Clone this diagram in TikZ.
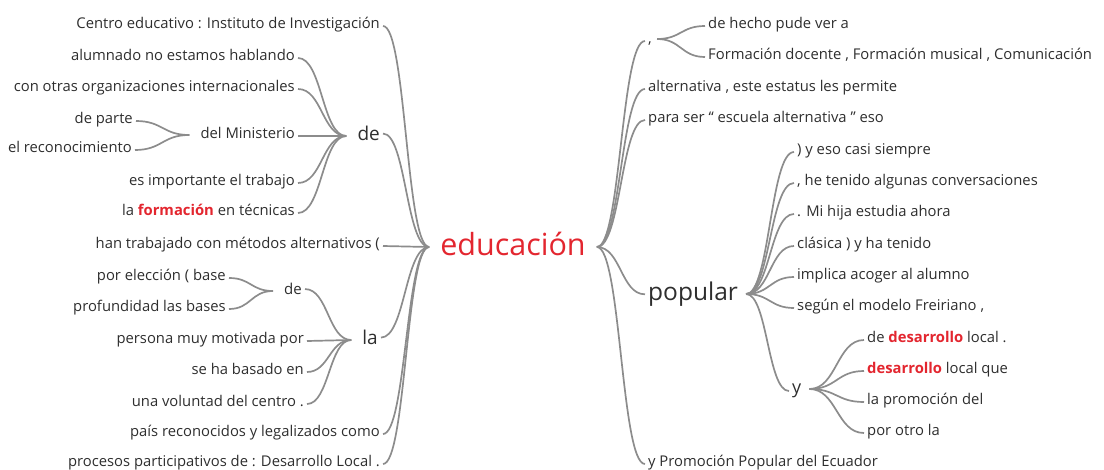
\documentclass[tikz,border=0pt]{standalone}
\usepackage{fontspec}
\setmainfont{Open Sans}
\usetikzlibrary{calc}

\definecolor{linkgray}{HTML}{8C8C8C}
\definecolor{wordred}{HTML}{E3262F}
\definecolor{wordgray}{HTML}{2E2E2E}
\newcommand{\hot}[1]{\textcolor{wordred}{\bfseries #1}}

\tikzset{
  word/.style={inner sep=3pt, text=wordgray, font=\fontsize{14.8}{17}\selectfont},
  wl/.style={word, anchor=mid east},
  wr/.style={word, anchor=mid west},
  link/.style={draw=linkgray, line width=1.7pt,
    to path={let \p1=(\tikztostart), \p2=(\tikztotarget) in
      .. controls ({(\x1+\x2)/2},\y1) and ({(\x1+\x2)/2},\y2) .. (\tikztotarget)}}
}

\begin{document}
\begin{tikzpicture}[x=1pt, y=-1pt]
    \useasboundingbox (0,0) rectangle (1104,469);

    % Root word
    \node[word, anchor=mid, text=wordred, font=\fontsize{30.5}{34}\selectfont] (educ) at (513,253) {educación};
    \coordinate (educ-w) at ([xshift=-8pt, yshift=6pt]educ.mid west);
    \coordinate (educ-e) at ([xshift=8pt, yshift=6pt]educ.mid east);

    % Left side, first level
    \node[wl] (l1) at (383,26) {Centro educativo : Instituto de Investigación};
    \node[wl, font=\fontsize{19}{22}\selectfont] (de1) at (383,138) {de};
    \node[wl] (l8) at (383,246) {han trabajado con métodos alternativos (};
    \node[wl, font=\fontsize{19}{22}\selectfont] (la1) at (381,342) {la};
    \node[wl] (l14) at (383,434) {país reconocidos y legalizados como};
    \node[wl] (l15) at (383,464) {procesos participativos de : Desarrollo Local .};

    % Left side, under "de"
    \node[wl] (l2) at (298,58) {alumnado no estamos hablando};
    \node[wl] (l3) at (298,89) {con otras organizaciones internacionales};
    \node[wl] (mini) at (298,136) {del Ministerio};
    \node[wl] (l6) at (298,183) {es importante el trabajo};
    \node[wl] (l7) at (298,213) {la \hot{formación} en técnicas};
    \node[wl] (l4) at (136,121) {de parte};
    \node[wl] (l5) at (135,150) {el reconocimiento};

    % Left side, under "la"
    \node[wl, font=\fontsize{15}{18}\selectfont] (de2) at (305,292) {de};
    \node[wl] (l9) at (229,278) {por elección ( base};
    \node[wl] (l10) at (229,309) {profundidad las bases};
    \node[wl] (l11) at (307,341) {persona muy motivada por};
    \node[wl] (l12) at (307,372) {se ha basado en};
    \node[wl] (l13) at (307,404) {una voluntad del centro .};

    \coordinate (de1-w) at ([xshift=-8pt, yshift=2pt]de1.mid west);
    \coordinate (mini-w) at ([xshift=-8pt, yshift=1pt]mini.mid west);
    \coordinate (la1-w) at ([xshift=-8pt, yshift=2pt]la1.mid west);
    \coordinate (de2-w) at ([xshift=-8pt, yshift=1pt]de2.mid west);

    % Right side, first level
    \node[wr] (coma) at (645,41) {,};
    \node[wr] (r3) at (645,89) {alternativa , este estatus les permite};
    \node[wr] (r4) at (645,120) {para ser “ escuela alternativa ” eso};
    \node[wr, font=\fontsize{24.5}{28}\selectfont] (pop) at (645,298) {popular};
    \node[wr] (r15) at (645,464) {y Promoción Popular del Ecuador};

    % Right side, under ","
    \node[wr] (r1) at (705,26) {de hecho pude ver a};
    \node[wr] (r2) at (705,57) {Formación docente , Formación musical , Comunicación};

    % Right side, under "popular"
    \node[wr] (r5) at (794,152) {) y eso casi siempre};
    \node[wr] (r6) at (794,183) {, he tenido algunas conversaciones};
    \node[wr] (r7) at (794,214) {. Mi hija estudia ahora};
    \node[wr] (r8) at (794,246) {clásica ) y ha tenido};
    \node[wr] (r9) at (794,277) {implica acoger al alumno};
    \node[wr] (r10) at (794,308) {según el modelo Freiriano ,};
    \node[wr, font=\fontsize{18}{21}\selectfont] (yy) at (789,391) {y};

    % Right side, under "y"
    \node[wr] (r11) at (864,340) {de \hot{desarrollo} local .};
    \node[wr] (r12) at (864,371) {\hot{desarrollo} local que};
    \node[wr] (r13) at (864,402) {la promoción del};
    \node[wr] (r14) at (864,433) {por otro la};

    \coordinate (coma-e) at ([xshift=2pt, yshift=2pt]coma.mid east);
    \coordinate (pop-e) at ([xshift=5pt, yshift=4pt]pop.mid east);
    \coordinate (yy-e) at ([xshift=5pt, yshift=2pt]yy.mid east);

    % Links
    \foreach \c in {l1,l8,l14,l15} \draw[link] (educ-w) to (\c.mid east);
    \foreach \c in {de1,la1} \draw[link] (educ-w) to (\c.east);
    \foreach \c in {l2,l3,mini,l6,l7} \draw[link] (de1-w) to (\c.mid east);
    \foreach \c in {l4,l5} \draw[link] (mini-w) to (\c.mid east);
    \foreach \c in {l11,l12,l13} \draw[link] (la1-w) to (\c.mid east);
    \draw[link] (la1-w) to (de2.east);
    \foreach \c in {l9,l10} \draw[link] (de2-w) to (\c.mid east);
    \foreach \c in {coma,r3,r4,r15} \draw[link] (educ-e) to (\c.mid west);
    \draw[link] (educ-e) to (pop.west);
    \foreach \c in {r1,r2} \draw[link] (coma-e) to (\c.mid west);
    \foreach \c in {r5,r6,r7,r8,r9,r10} \draw[link] (pop-e) to (\c.mid west);
    \draw[link] (pop-e) to (yy.west);
    \foreach \c in {r11,r12,r13,r14} \draw[link] (yy-e) to (\c.mid west);
\end{tikzpicture}
\end{document}
